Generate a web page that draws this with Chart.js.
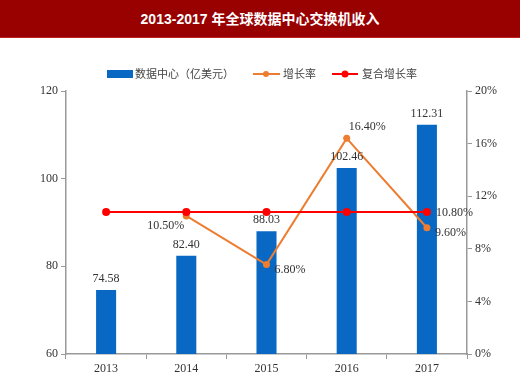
<!DOCTYPE html>
<html><head><meta charset="utf-8">
<script src="https://cdn.jsdelivr.net/npm/chart.js@4/dist/chart.umd.min.js"></script>
<style>
html,body{margin:0;padding:0;background:#fff;}
#title{width:520px;height:37px;background:#990000;border-bottom:1px solid #b22;color:#fff;font:bold 14px "Liberation Sans","Noto Sans CJK SC",sans-serif;text-align:center;line-height:39px;}
#wrap{position:relative;width:520px;height:341px;}
</style></head><body>
<div id="title">2013-2017 年全球数据中心交换机收入</div>
<div id="wrap"><canvas id="c" width="520" height="341"></canvas></div>
<script>
const categories = ['2013','2014','2015','2016','2017'];
const revenue = [74.58, 82.40, 88.03, 102.46, 112.31];
const growth = [null, 10.50, 6.80, 16.40, 9.60];
const cagr = [10.80, 10.80, 10.80, 10.80, 10.80];
const seriesNames = ['数据中心（亿美元）', '增长率', '复合增长率'];

const BLUE = '#0868c4', ORANGE = '#ed7d31', RED = '#ff0000';
const SERIF = '"Liberation Serif","Times New Roman",serif';
const CJK = '"Noto Sans CJK SC",sans-serif';

const labelPlugin = {
  id: 'labels',
  afterDatasetsDraw(chart) {
    const ctx = chart.ctx;
    ctx.save();
    ctx.font = '12px ' + SERIF;
    ctx.fillStyle = '#333';
    const m0 = chart.getDatasetMeta(0);
    m0.data.forEach((b, i) => {
      ctx.textAlign = 'center'; ctx.textBaseline = 'bottom';
      ctx.fillText(revenue[i].toFixed(2), b.x, b.y - 5);
    });
    const m1 = chart.getDatasetMeta(1);
    const place = [null, 'left', 'right', 'above', 'right'];
    m1.data.forEach((p, i) => {
      if (growth[i] == null) return;
      const t = growth[i].toFixed(2) + '%';
      ctx.textBaseline = 'middle';
      if (place[i] === 'left') { ctx.textAlign = 'right'; ctx.fillText(t, p.x - 2, p.y + 10); }
      else if (place[i] === 'right') { ctx.textAlign = 'left'; ctx.fillText(t, p.x + 8, p.y + 5); }
      else { ctx.textAlign = 'left'; ctx.fillText(t, p.x + 2, p.y - 11); }
    });
    const m2 = chart.getDatasetMeta(2);
    const last = m2.data[m2.data.length - 1];
    ctx.textAlign = 'left'; ctx.textBaseline = 'middle';
    ctx.fillText(cagr[cagr.length - 1].toFixed(2) + '%', last.x + 9, last.y + 1);
    ctx.restore();
  }
};

const legendPlugin = {
  id: 'customLegend',
  afterDraw(chart) {
    const ctx = chart.ctx;
    ctx.save();
    const y = 36;
    ctx.font = '11px ' + CJK;
    ctx.textBaseline = 'middle';
    ctx.textAlign = 'left';
    ctx.fillStyle = BLUE;
    ctx.fillRect(107, y - 4, 26, 8);
    ctx.fillStyle = '#444';
    ctx.fillText(seriesNames[0], 135, y);
    ctx.strokeStyle = ORANGE; ctx.lineWidth = 2;
    ctx.beginPath(); ctx.moveTo(253, y); ctx.lineTo(280, y); ctx.stroke();
    ctx.fillStyle = ORANGE; ctx.beginPath(); ctx.arc(266, y, 3, 0, Math.PI * 2); ctx.fill();
    ctx.fillStyle = '#444'; ctx.fillText(seriesNames[1], 283, y);
    ctx.strokeStyle = RED;
    ctx.beginPath(); ctx.moveTo(332, y); ctx.lineTo(358, y); ctx.stroke();
    ctx.fillStyle = RED; ctx.beginPath(); ctx.arc(345, y, 3.5, 0, Math.PI * 2); ctx.fill();
    ctx.fillStyle = '#444'; ctx.fillText(seriesNames[2], 362, y);
    ctx.restore();
  }
};

new Chart(document.getElementById('c'), {
  data: {
    labels: categories,
    datasets: [
      { type: 'bar', label: seriesNames[0], data: revenue, backgroundColor: BLUE, yAxisID: 'y',
        barPercentage: 0.25, categoryPercentage: 1, order: 3 },
      { type: 'line', label: seriesNames[1], data: growth, borderColor: ORANGE, backgroundColor: ORANGE,
        borderWidth: 2, pointRadius: 3.5, pointBorderWidth: 0, yAxisID: 'y1', order: 2, spanGaps: false },
      { type: 'line', label: seriesNames[2], data: cagr, borderColor: RED, backgroundColor: RED,
        borderWidth: 2, pointRadius: 4, pointBorderWidth: 0, yAxisID: 'y1', order: 1 }
    ]
  },
  options: {
    responsive: false,
    animation: false,
    layout: { padding: { top: 53, left: 0, right: 0, bottom: 0 } },
    plugins: { legend: { display: false }, tooltip: { enabled: false }, title: { display: false } },
    scales: {
      x: {
        offset: true,
        grid: { display: true, offset: true, drawOnChartArea: false, tickLength: 5, color: '#999' },
        border: { color: '#999', width: 1.5 },
        ticks: { color: '#333', font: { family: SERIF, size: 12 }, padding: 3, maxRotation: 0 },
        afterFit(s) { s.height = 25; }
      },
      y: {
        position: 'left', min: 60, max: 120,
        grid: { drawOnChartArea: false, tickLength: 5, color: '#999' },
        border: { color: '#999', width: 1.5 },
        ticks: { stepSize: 20, color: '#333', font: { family: SERIF, size: 12 }, padding: 3 },
        afterFit(s) { s.width = 66; }
      },
      y1: {
        position: 'right', min: 0, max: 20,
        grid: { drawOnChartArea: false, tickLength: 5, color: '#999' },
        border: { color: '#999', width: 1.5 },
        ticks: { stepSize: 4, color: '#333', font: { family: SERIF, size: 12 }, padding: 3,
          callback: v => v + '%' },
        afterFit(s) { s.width = 53; }
      }
    }
  },
  plugins: [labelPlugin, legendPlugin]
});
</script>
</body></html>
